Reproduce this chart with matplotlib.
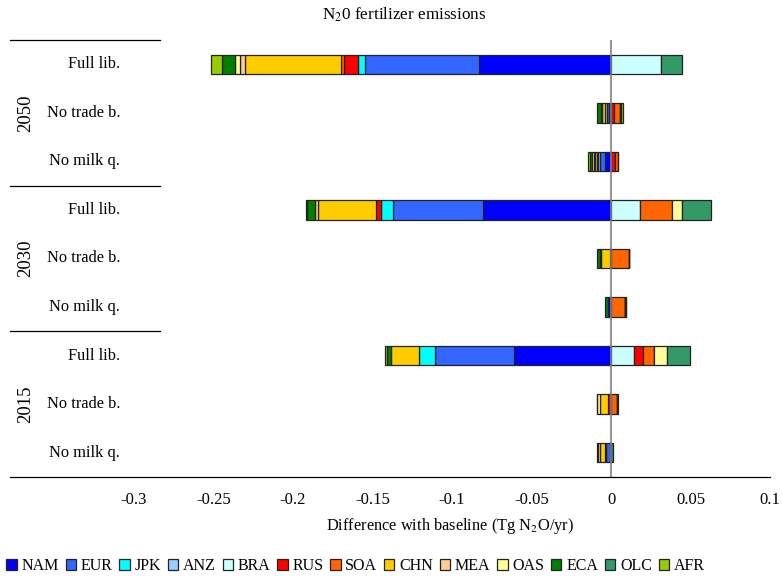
import numpy as np
import matplotlib.pyplot as plt
import matplotlib.transforms as mtransforms

plt.rcParams['font.family'] = ['Liberation Serif', 'DejaVu Serif']
plt.rcParams['mathtext.fontset'] = 'stix'

# scenario rows, top to bottom
years = ["2050", "2030", "2015"]
scenarios = ["Full lib.", "No trade b.", "No milk q."]

regions = ["NAM", "EUR", "JPK", "ANZ", "BRA", "RUS", "SOA",
           "CHN", "MEA", "OAS", "ECA", "OLC", "AFR"]
colors = ["#0000FF", "#3366FF", "#00FFFF", "#99CCFF", "#CCFFFF", "#FF0000",
          "#FF6600", "#FFCC00", "#FFCC99", "#FFFF99", "#008000", "#339966",
          "#99CC00"]

# change vs baseline (Tg N2O/yr), rows in the order
# 2050 Full, 2050 NoTrade, 2050 NoMilk, 2030 Full, ..., 2015 NoMilk
NAM = [-0.0830, -0.0015, -0.0038, -0.0802, 0.0000, -0.0019, -0.0609, 0.0000, -0.0007]
EUR = [-0.0716, -0.0013, -0.0029, -0.0572, 0.0000, 0.0000, -0.0496, 0.0000, -0.0022]
JPK = [-0.0048, 0.0000, 0.0000, -0.0073, 0.0000, 0.0000, -0.0105, 0.0000, 0.0000]
ANZ = [0.0000, -0.0012, -0.0013, 0.0000, 0.0000, 0.0000, 0.0000, 0.0000, 0.0000]
BRA = [0.0315, 0.0000, -0.0006, 0.0180, 0.0000, 0.0000, 0.0146, 0.0000, 0.0000]
RUS = [-0.0088, 0.0020, 0.0022, -0.0031, -0.0008, 0.0000, 0.0057, -0.0020, 0.0000]
SOA = [-0.0017, 0.0038, 0.0025, 0.0205, 0.0113, 0.0086, 0.0069, 0.0036, -0.0011]
CHN = [-0.0603, -0.0017, -0.0013, -0.0362, -0.0053, 0.0000, -0.0173, -0.0050, -0.0030]
MEA = [-0.0031, 0.0000, -0.0008, -0.0020, 0.0000, 0.0000, 0.0000, 0.0000, 0.0000]
OAS = [-0.0031, -0.0008, -0.0013, 0.0059, -0.0008, 0.0000, 0.0082, -0.0015, -0.0011]
ECA = [-0.0080, -0.0025, -0.0015, -0.0050, -0.0017, -0.0016, -0.0028, 0.0000, 0.0000]
OLC = [0.0132, 0.0006, 0.0000, 0.0182, 0.0000, 0.0011, 0.0141, 0.0011, 0.0012]
AFR = [-0.0071, 0.0012, -0.0008, -0.0008, 0.0000, 0.0000, -0.0010, -0.0004, -0.0005]

series = [NAM, EUR, JPK, ANZ, BRA, RUS, SOA, CHN, MEA, OAS, ECA, OLC, AFR]
xticks = [-0.3, -0.25, -0.2, -0.15, -0.1, -0.05, 0, 0.05, 0.1]

fig = plt.figure(figsize=(7.82, 5.76), dpi=100)
ax = fig.add_axes([10 / 782, 1 - 477 / 576, 760 / 782, 437 / 576])

n = len(NAM)
ypos = np.arange(n)[::-1]
pos_base = np.zeros(n)
neg_base = np.zeros(n)
for name, vals, col in zip(regions, series, colors):
    v = np.array(vals)
    left = np.where(v >= 0, pos_base, neg_base)
    ax.barh(ypos, v, left=left, height=0.4, color=col, edgecolor="#222222",
            linewidth=0.9, label=name, zorder=2)
    pos_base += np.where(v >= 0, v, 0)
    neg_base += np.where(v < 0, v, 0)

ax.set_xlim(-0.378, 0.1)
ax.set_ylim(-0.5, n - 0.5)
ax.axvline(0, color="#808080", linewidth=1.2, zorder=3)

for s in ["top", "right", "left"]:
    ax.spines[s].set_visible(False)
ax.spines["bottom"].set_linewidth(0.9)
ax.set_yticks([])
ax.set_xticks(xticks)
ax.set_xticklabels(["-0.3", "-0.25", "-0.2", "-0.15", "-0.1", "-0.05", "0", "0.05", "0.1"])
ax.tick_params(axis="x", length=0, labelsize=12, pad=11)
ax.set_xlabel("Difference with baseline (Tg N$_2$O/yr)", fontsize=11.8)
ax.xaxis.set_label_coords(0.579, -0.09)

# grouped category labels on the left
trans = mtransforms.blended_transform_factory(ax.transAxes, ax.transData)
for i, yr in enumerate(years):
    top = n - 0.5 - 3 * i
    ax.plot([0, 0.197], [top, top], color="black", linewidth=0.9,
            transform=trans, clip_on=False)
    ax.text(0.021, top - 1.5, yr, rotation=90, ha="center", va="center",
            fontsize=13.5, transform=trans)
    for j, sc in enumerate(scenarios):
        ax.text(0.145, top - 0.5 - j, sc, ha="right", va="center",
                fontsize=11.8, transform=trans)

fig.suptitle("N$_2$0 fertilizer emissions", x=0.517, y=0.99, fontsize=12.3)

fig.legend(loc="lower left", bbox_to_anchor=(0.0, -0.008), ncol=13, frameon=False,
           fontsize=11.5, handlelength=0.65, handleheight=0.65,
           handletextpad=0.3, columnspacing=0.42, borderaxespad=0.0)

fig.savefig("out.png", dpi=100)
